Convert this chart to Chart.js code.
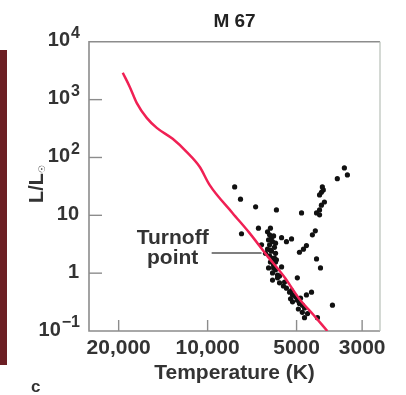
<!DOCTYPE html>
<html>
<head>
<meta charset="utf-8">
<script src="https://cdn.jsdelivr.net/npm/chart.js@4.4.0/dist/chart.umd.min.js"></script>
<style>
body{margin:0;background:#fff;}
#chartdiv{width:406px;height:395px;}
</style>
</head>
<body>
<div id="chartdiv"><canvas id="myChart" width="406" height="395"></canvas></div>
<script>

// zero age main sequence (red curve) - temperature K, luminosity L/Lsun
var zamsT=[19370,18340,17380,16070,14860,13130,11780,10640,9850,8240,7220,6320,5500,4890,4380,3935];
var zamsL=[2910,1660,880,484,325,210,125,69,33.6,11.0,4.97,2.07,0.86,0.358,0.189,0.1];

// M 67 stars
var starT=[8100,7740,6880,5850,4810,7680,6730,6130,6270,6170,6080,5980,6220,6030,6170,5940,6270,6080,5890,6170,
	6030,5850,6130,5980,6220,5890,6030,5800,6570,6370,5890,5620,5410,5200,4890,4740,4630,4420,4320,4280,
	4180,4120,4025,4180,4180,4120,4090,4060,3640,3445,3365,4280,4150,4970,5620,6030,5710,5540,5410,5280,
	5160,5040,5160,4970,4890,4780,4700,4630,4450,4780,4700,4590,4250,3780,5710,5490,5800,5240,4930,4850,
	5980,5890,6130,5940,5200];
var starL=[31,19,14,12.4,11,4.8,6.0,6.0,5.2,4.6,4.1,4.4,3.75,3.5,3.1,2.8,2.6,2.4,2.2,2.0,
	1.8,1.7,1.56,1.39,1.23,1.14,1.01,0.93,3.1,2.2,3.3,4.1,3.5,3.9,2.3,2.6,3.0,4.6,5.4,11,
	12.4,15,17,10.2,22.5,25,31,27.5,43,66,50,1.76,1.23,0.83,1.28,0.76,0.68,0.60,0.55,0.47,
	0.42,0.39,0.32,0.34,0.30,0.28,0.25,0.42,0.47,0.21,0.17,0.20,0.17,0.28,0.89,0.70,0.83,0.36,0.24,0.37,
	1.23,1.56,2.5,1.83,0.5];

// axes
var xTickVals=[20000,10000,5000,3000];
var xTickLabels=['20,000','10,000','5000','3000'];
var yTickVals=[10000,1000,100,10,1,0.1];
var yTickBase=['10','10','10','10','1','10'];
var yTickExp=['4','3','2','','','\u22121'];

// turnoff label (data coords)
var turnoffText=['Turnoff','point'];
var turnoffTextT=13130;
var turnoffTextL=[4.1,1.8];
var turnoffLineT=[9690,6570];
var turnoffLineL=2.23;

var zamsData=[];
for(var ia=0; ia<zamsT.length; ia++){
	zamsData.push({x:zamsT[ia],y:zamsL[ia]});
}
var starData=[];
for(var ia=0; ia<starT.length; ia++){
	starData.push({x:starT[ia],y:starL[ia]});
}

var txtcolor='#333333';
var framecolor='#8c8c8c';

var hrDecor={
	id:'hrDecor',
	beforeDatasetsDraw:function(chart){
		var ctx=chart.ctx;
		var ca=chart.chartArea;
		var xs=chart.scales.x;
		var ys=chart.scales.y;
		ctx.save();
		// left strip from the page
		ctx.fillStyle='#6c1f24';
		ctx.fillRect(0,50,7,315);
		// frame
		ctx.lineWidth=1.6;
		ctx.strokeStyle=framecolor;
		ctx.beginPath();
		ctx.moveTo(ca.right,ca.top);
		ctx.lineTo(ca.left,ca.top);
		ctx.lineTo(ca.left,ca.bottom);
		ctx.lineTo(ca.right,ca.bottom);
		ctx.stroke();
		ctx.strokeStyle='#b8c0b8';
		ctx.lineWidth=1.2;
		ctx.beginPath();
		ctx.moveTo(ca.right,ca.top);
		ctx.lineTo(ca.right,ca.bottom);
		ctx.stroke();
		// inward ticks
		ctx.strokeStyle=framecolor;
		ctx.lineWidth=1.4;
		for(var ib=0; ib<xTickVals.length; ib++){
			var px=xs.getPixelForValue(xTickVals[ib]);
			ctx.beginPath();
			ctx.moveTo(px,ca.bottom);
			ctx.lineTo(px,ca.bottom-11);
			ctx.stroke();
		}
		for(var ib=1; ib<yTickVals.length-1; ib++){
			var py=ys.getPixelForValue(yTickVals[ib]);
			ctx.beginPath();
			ctx.moveTo(ca.left,py);
			ctx.lineTo(ca.left+13,py);
			ctx.stroke();
		}
		ctx.restore();
	},
	afterDraw:function(chart){
		var ctx=chart.ctx;
		var ca=chart.chartArea;
		var xs=chart.scales.x;
		var ys=chart.scales.y;
		ctx.save();
		ctx.fillStyle=txtcolor;
		// x tick labels
		ctx.font='bold 21px "Liberation Sans", Arial, sans-serif';
		ctx.textAlign='center';
		ctx.textBaseline='middle';
		for(var ib=0; ib<xTickVals.length; ib++){
			ctx.fillText(xTickLabels[ib],xs.getPixelForValue(xTickVals[ib]),348);
		}
		// x title
		ctx.textBaseline='alphabetic';
		ctx.fillText('Temperature (K)',(ca.left+ca.right)/2,379);
		// y tick labels with exponents
		var rightx=ca.left-9;
		for(var ib=0; ib<yTickVals.length; ib++){
			var py=ys.getPixelForValue(yTickVals[ib]);
			ctx.textAlign='right';
			ctx.textBaseline='middle';
			var expw=0;
			if(yTickExp[ib]!=''){
				ctx.font='bold 16px "Liberation Sans", Arial, sans-serif';
				expw=ctx.measureText(yTickExp[ib]).width;
				ctx.fillText(yTickExp[ib],rightx,py-8);
			}
			ctx.font='bold 20px "Liberation Sans", Arial, sans-serif';
			ctx.fillText(yTickBase[ib],rightx-expw-1,py-1);
		}
		// y title L/Lsun
		ctx.save();
		ctx.translate(37,203);
		ctx.rotate(-Math.PI/2);
		ctx.textAlign='left';
		ctx.textBaseline='middle';
		ctx.font='bold 20px "Liberation Sans", Arial, sans-serif';
		ctx.fillText('L/L',0,0);
		var lw=ctx.measureText('L/L').width;
		ctx.font='bold 9px "DejaVu Sans", sans-serif';
		ctx.fillText('\u2609',lw,6);
		ctx.restore();
		// turnoff annotation
		ctx.font='bold 21px "Liberation Sans", Arial, sans-serif';
		ctx.textAlign='center';
		ctx.textBaseline='middle';
		for(var ib=0; ib<turnoffText.length; ib++){
			ctx.fillText(turnoffText[ib],xs.getPixelForValue(turnoffTextT),ys.getPixelForValue(turnoffTextL[ib]));
		}
		ctx.strokeStyle='#555555';
		ctx.lineWidth=1.5;
		ctx.beginPath();
		ctx.moveTo(xs.getPixelForValue(turnoffLineT[0]),ys.getPixelForValue(turnoffLineL));
		ctx.lineTo(xs.getPixelForValue(turnoffLineT[1]),ys.getPixelForValue(turnoffLineL));
		ctx.stroke();
		// panel letter
		ctx.font='bold 17px "Liberation Sans", Arial, sans-serif';
		ctx.textAlign='left';
		ctx.fillText('c',31,387);
		ctx.restore();
	}
};

var ctx=document.getElementById('myChart').getContext('2d');
var myChart=new Chart(ctx,{
	type:'scatter',
	data:{
		datasets:[{
			label:'ZAMS',
			type:'line',
			data:zamsData,
			borderColor:'rgb(240,32,84)',
			borderWidth:2.5,
			pointRadius:0,
			fill:false,
			cubicInterpolationMode:'monotone'
		},{
			label:'M 67',
			data:starData,
			backgroundColor:'#111111',
			borderWidth:0,
			pointRadius:2.6
		}]
	},
	options:{
		responsive:false,
		animation:false,
		layout:{padding:{left:89,right:26,top:0,bottom:64}},
		plugins:{
			legend:{display:false},
			tooltip:{enabled:false},
			title:{
				display:true,
				text:'M 67',
				color:'#222222',
				font:{size:19,weight:'bold',family:'"Liberation Sans", Arial, sans-serif'},
				padding:{top:10,bottom:9}
			}
		},
		scales:{
			x:{type:'logarithmic',reverse:true,min:2610,max:25200,display:false},
			y:{type:'logarithmic',min:0.1,max:10000,display:false}
		}
	},
	plugins:[hrDecor]
});
</script>
</body>
</html>
